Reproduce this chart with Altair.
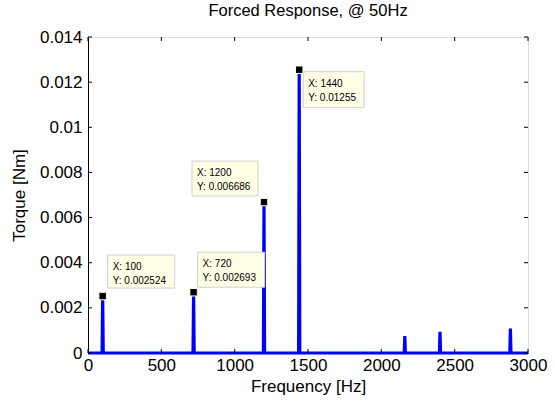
import altair as alt
import pandas as pd

# ---- data ----
spike_freq = [100, 720, 1200, 1440, 2160, 2400, 2880]
spike_torque = [0.002524, 0.002693, 0.006686, 0.01255, 0.00075, 0.00094, 0.00108]
tip_freq = [100, 720, 1200, 1440]
tip_torque = [0.002524, 0.002693, 0.006686, 0.01255]
x_ticks = [0, 500, 1000, 1500, 2000, 2500, 3000]
y_ticks = [0, 0.002, 0.004, 0.006, 0.008, 0.01, 0.012, 0.014]

# build the spectrum line (zero baseline with narrow spikes)
pts = [(0, 0.0)]
for f, v in zip(spike_freq, spike_torque):
    pts += [(f - 4, 0.0), (f, v), (f + 4, 0.0)]
pts.append((3000, 0.0))
line_df = pd.DataFrame(pts, columns=["freq", "torque"])
line_df["order"] = range(len(line_df))

W, H = 440, 316
FONT = "Liberation Sans"

xs = alt.Scale(domain=[0, 3000], nice=False, zero=False)
ys = alt.Scale(domain=[0, 0.014], nice=False, zero=False)

xaxis = alt.Axis(values=x_ticks, format="d", title="Frequency [Hz]", ticks=False,
                 labelFontSize=17, titleFontSize=17, labelFont=FONT, titleFont=FONT,
                 labelColor="black", titleColor="black", titleFontWeight="normal",
                 domainColor="black", labelPadding=4, titlePadding=5, grid=False,
                 labelFlush=False, labelOverlap=False)
yaxis = alt.Axis(values=y_ticks, title="Torque [Nm]", ticks=False,
                 labelExpr="datum.value == 0 ? '0' : format(datum.value, '~g')",
                 labelFontSize=17, titleFontSize=17, labelFont=FONT, titleFont=FONT,
                 labelColor="black", titleColor="black", titleFontWeight="normal",
                 domainColor="black", labelPadding=6, titlePadding=11, grid=False,
                 labelFlush=False, labelOverlap=False)

line = alt.Chart(line_df).mark_line(color="#0000FF", strokeWidth=3.2, clip=False).encode(
    x=alt.X("freq:Q", scale=xs, axis=xaxis),
    y=alt.Y("torque:Q", scale=ys, axis=yaxis),
    order="order:Q",
)

xt = pd.DataFrame({"t": x_ticks})
yt = pd.DataFrame({"t": y_ticks})
tick_style = dict(color="black", strokeWidth=1)
bottom_ticks = alt.Chart(xt).mark_rule(**tick_style).encode(
    x=alt.X("t:Q", scale=xs), y=alt.value(H), y2=alt.value(H - 4))
top_ticks = alt.Chart(xt).mark_rule(**tick_style).encode(
    x=alt.X("t:Q", scale=xs), y=alt.value(0), y2=alt.value(4))
left_ticks = alt.Chart(yt).mark_rule(**tick_style).encode(
    y=alt.Y("t:Q", scale=ys), x=alt.value(0), x2=alt.value(4))
right_ticks = alt.Chart(yt).mark_rule(**tick_style).encode(
    y=alt.Y("t:Q", scale=ys), x=alt.value(W), x2=alt.value(W - 4))

# data-tip boxes: pixel offsets of the box relative to the marked point
box_offsets = [
    dict(l=5, r=72, t=-41, b=-8),
    dict(l=4, r=71, t=-40, b=-5),
    dict(l=-72, r=-6, t=-41, b=-6),
    dict(l=4, r=65, t=2, b=38),
]

layers = [line, bottom_ticks, top_ticks, left_ticks, right_ticks]
for f, v, off in zip(tip_freq, tip_torque, box_offsets):
    d = pd.DataFrame({"freq": [f], "torque": [v],
                      "label": [f"X: {f}\nY: {v:.4g}"]})
    base = alt.Chart(d)
    rect = base.mark_rect(fill="#FFFFE6", stroke="#CFCFCF", strokeWidth=1,
                          xOffset=off["l"], x2Offset=off["r"],
                          yOffset=off["t"], y2Offset=off["b"]).encode(
        x=alt.X("freq:Q", scale=xs), x2="freq:Q",
        y=alt.Y("torque:Q", scale=ys), y2="torque:Q")
    txt = base.mark_text(align="left", baseline="alphabetic", font=FONT, fontSize=10,
                         color="black", lineBreak="\n", lineHeight=14,
                         dx=off["l"] + 5, dy=off["t"] + 15).encode(
        x=alt.X("freq:Q", scale=xs), y=alt.Y("torque:Q", scale=ys), text="label:N")
    layers += [rect, txt]

marker_df = pd.DataFrame({"freq": tip_freq, "torque": tip_torque})
markers = alt.Chart(marker_df).mark_square(size=56, fill="black", stroke="#FFFFE0",
                                           strokeWidth=1, opacity=1).encode(
    x=alt.X("freq:Q", scale=xs), y=alt.Y("torque:Q", scale=ys))
layers.append(markers)

chart = alt.layer(*layers).properties(
    width=W, height=H,
    title=alt.TitleParams("Forced Response, @ 50Hz", font=FONT, fontSize=16.5,
                          fontWeight="normal", color="black", offset=9),
    autosize=alt.AutoSizeParams(type="none"),
    padding={"left": 88, "top": 37, "right": 27, "bottom": 49},
).configure_view(stroke="black", strokeWidth=1).configure(background="white")

chart.save("out.html", embed_options={"renderer": "svg", "actions": False})
